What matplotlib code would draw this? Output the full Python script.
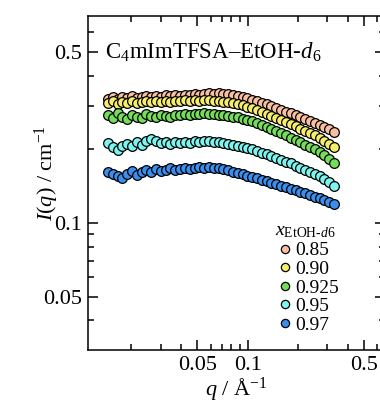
import matplotlib
matplotlib.use("Agg")
from matplotlib import pyplot as plt
from matplotlib.ticker import FixedLocator, NullFormatter, FixedFormatter

plt.rcParams['font.family'] = ['Liberation Serif', 'DejaVu Serif']
plt.rcParams['mathtext.fontset'] = 'custom'
plt.rcParams['mathtext.rm'] = 'Liberation Serif'
plt.rcParams['mathtext.it'] = 'Liberation Serif:italic'

# scattering vector q / A^-1
q = [0.0145, 0.0155, 0.0166, 0.0177, 0.0189, 0.0202, 0.0216, 0.0231, 0.0247, 0.0264,
     0.0282, 0.0301, 0.0322, 0.0344, 0.0368, 0.0393, 0.0420, 0.0449, 0.0480, 0.0513,
     0.0548, 0.0586, 0.0626, 0.0669, 0.0715, 0.0764, 0.0817, 0.0873, 0.0933, 0.0997,
     0.1066, 0.1139, 0.1217, 0.1301, 0.1391, 0.1486, 0.1589, 0.1698, 0.1815, 0.1940,
     0.2073, 0.2216, 0.2368, 0.2531, 0.2705, 0.2891, 0.3090, 0.3303]

# I(q) / cm^-1 for each x_EtOH-d6
I_085 = [0.322, 0.326, 0.320, 0.327, 0.323, 0.329, 0.324, 0.326, 0.331, 0.327,
         0.330, 0.328, 0.332, 0.329, 0.333, 0.331, 0.334, 0.332, 0.335, 0.333,
         0.336, 0.338, 0.336, 0.339, 0.337, 0.335, 0.333, 0.330, 0.327, 0.323,
         0.319, 0.315, 0.310, 0.305, 0.300, 0.295, 0.290, 0.285, 0.280, 0.275,
         0.270, 0.266, 0.262, 0.257, 0.252, 0.247, 0.241, 0.235]
I_090 = [0.310, 0.314, 0.306, 0.313, 0.309, 0.315, 0.310, 0.312, 0.315, 0.311,
         0.314, 0.312, 0.316, 0.313, 0.315, 0.314, 0.317, 0.315, 0.317, 0.316,
         0.318, 0.317, 0.316, 0.315, 0.313, 0.311, 0.308, 0.305, 0.302, 0.298,
         0.294, 0.289, 0.284, 0.279, 0.274, 0.269, 0.263, 0.258, 0.253, 0.248,
         0.243, 0.238, 0.233, 0.228, 0.222, 0.216, 0.210, 0.204]
I_0925 = [0.276, 0.268, 0.280, 0.271, 0.266, 0.277, 0.272, 0.268, 0.278, 0.273,
          0.270, 0.276, 0.274, 0.271, 0.277, 0.275, 0.278, 0.276, 0.279, 0.278,
          0.280, 0.279, 0.278, 0.277, 0.276, 0.274, 0.272, 0.270, 0.267, 0.264,
          0.260, 0.256, 0.252, 0.247, 0.243, 0.238, 0.233, 0.228, 0.223, 0.219,
          0.214, 0.209, 0.205, 0.200, 0.195, 0.190, 0.183, 0.176]
I_095 = [0.212, 0.204, 0.198, 0.207, 0.211, 0.206, 0.214, 0.209, 0.217, 0.220,
         0.216, 0.212, 0.215, 0.210, 0.214, 0.212, 0.215, 0.213, 0.216, 0.214,
         0.217, 0.216, 0.215, 0.214, 0.213, 0.211, 0.209, 0.207, 0.205, 0.203,
         0.200, 0.197, 0.194, 0.191, 0.188, 0.185, 0.181, 0.178, 0.175, 0.171,
         0.168, 0.165, 0.162, 0.158, 0.155, 0.151, 0.147, 0.142]
I_097 = [0.162, 0.158, 0.155, 0.152, 0.159, 0.163, 0.157, 0.161, 0.165, 0.162,
         0.166, 0.163, 0.164, 0.167, 0.165, 0.166, 0.168, 0.166, 0.167, 0.169,
         0.167, 0.170, 0.168, 0.167, 0.166, 0.164, 0.162, 0.160, 0.158, 0.156,
         0.154, 0.152, 0.150, 0.148, 0.146, 0.144, 0.142, 0.140, 0.138, 0.136,
         0.134, 0.132, 0.130, 0.128, 0.126, 0.124, 0.122, 0.120]

labels = ['0.85', '0.90', '0.925', '0.95', '0.97']
colors = ['#F8BFA0', '#F6EE6A', '#74DE5A', '#7EF4EE', '#3A8FEE']
series = [I_085, I_090, I_0925, I_095, I_097]

x_ticks = [0.05, 0.1, 0.5]
y_ticks = [0.05, 0.1, 0.5]

fig = plt.figure(figsize=(3.8, 4.03), dpi=100)
# right spine sits just outside the picture, as in the reference
ax = fig.add_axes([0.2316, 0.1315, 0.7816, 0.8288])

for vals, col, lab in zip(series, colors, labels):
    ax.plot(q, vals, 'o', ms=7, mfc=col, mec='black', mew=0.9, label=lab)

ax.set_xscale('log')
ax.set_yscale('log')
ax.set_xlim(0.011, 0.669)
ax.set_ylim(0.0303, 0.70)

ax.xaxis.set_major_locator(FixedLocator(x_ticks))
ax.xaxis.set_major_formatter(FixedFormatter([str(t) for t in x_ticks]))
ax.xaxis.set_minor_locator(FixedLocator([0.02, 0.03, 0.04, 0.06, 0.07, 0.08, 0.09,
                                         0.2, 0.3, 0.4, 0.6]))
ax.xaxis.set_minor_formatter(NullFormatter())
ax.yaxis.set_major_locator(FixedLocator(y_ticks))
ax.yaxis.set_major_formatter(FixedFormatter([str(t) for t in y_ticks]))
ax.yaxis.set_minor_locator(FixedLocator([0.04, 0.06, 0.07, 0.08, 0.09,
                                         0.2, 0.3, 0.4, 0.6]))
ax.yaxis.set_minor_formatter(NullFormatter())

ax.tick_params(which='both', direction='in', top=True, right=True, labelsize=16,
               width=1.1, pad=4)
ax.tick_params(which='major', length=7)
ax.tick_params(which='minor', length=4)
for sp in ax.spines.values():
    sp.set_linewidth(1.1)
ax.spines['right'].set_visible(False)

ax.set_xlabel(r'$q$ / Å$^{-1}$', fontsize=16, labelpad=0)
ax.set_ylabel(r'$I(q)$ / cm$^{-1}$', fontsize=16)
ax.yaxis.set_label_coords(-0.092, 0.53)

ax.text(0.058, 0.892, r'C$_4$mImTFSA–EtOH-$d_6$', transform=ax.transAxes,
        fontsize=16.5, va='center', ha='left')

# legend title drawn on its own so the rows can be placed freely
ax.text(0.630, 0.354, r'$x_{\mathrm{EtOH}\text{-}d6}$', transform=ax.transAxes,
        fontsize=14, va='center', ha='left')
ax.legend(loc='upper left', bbox_to_anchor=(0.614, 0.347), frameon=False,
          fontsize=14, handletextpad=0.2, labelspacing=0.05,
          borderaxespad=0, handlelength=0.7, markerscale=0.85)

fig.savefig('out.png', dpi=100)
